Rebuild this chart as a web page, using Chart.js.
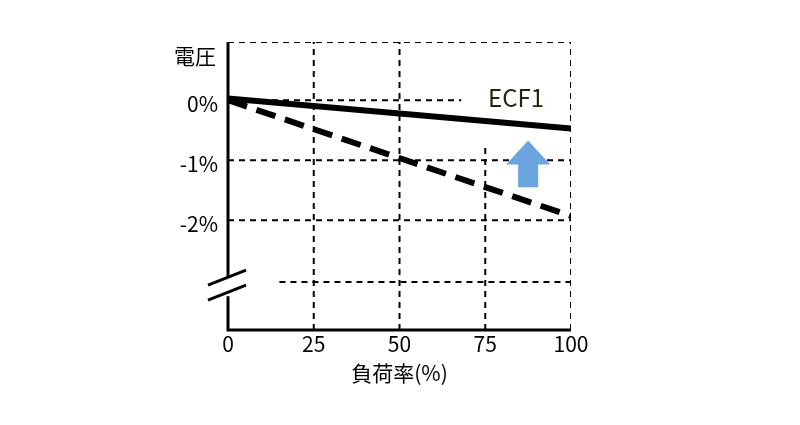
<!DOCTYPE html>
<html lang="ja">
<head>
<meta charset="UTF-8">
<title>ECF1</title>
<script src="https://cdn.jsdelivr.net/npm/chart.js"></script>
<style>
  body { margin: 0; background: #fff; }
  #wrap { width: 800px; height: 425px; }
</style>
</head>
<body>
<div id="wrap"><canvas id="c"></canvas></div>
<script>
// data
var xTicks = [0, 25, 50, 75, 100];
var yTicks = [0, -1, -2];
var yTickLabels = ['0%', '-1%', '-2%'];
var solidLine = [{x: 0, y: 0.03}, {x: 100, y: -0.47}];
var dashedLine = [{x: 0, y: 0}, {x: 100, y: -1.93}];
var yMin = -3.83, yMax = 0.97;
// dashed reference grid segments [x1, y1, x2, y2]
var gridSegs = [
  [25, yMin, 25, yMax], [50, yMin, 50, yMax], [75, yMin, 75, -0.75], [100, yMin, 100, yMax],
  [0, yMax, 100, yMax], [0, 0, 68, 0], [0, -1, 100, -1], [0, -2, 100, -2], [15, -3.03, 100, -3.03]
];
var arrow = {x: 87.5, yBase: -1.45, yTip: -0.67};

var datasets = gridSegs.map(function (s) {
  return { data: [{x: s[0], y: s[1]}, {x: s[2], y: s[3]}], borderColor: '#000', borderWidth: 2,
           borderDash: [6, 5], pointRadius: 0 };
});
datasets.push({ data: dashedLine, borderColor: '#000', borderWidth: 6, borderDash: [20, 10], pointRadius: 0 });
datasets.push({ data: solidLine, borderColor: '#000', borderWidth: 6, pointRadius: 0 });

var FONT = '"Noto Sans CJK JP", "Noto Sans", sans-serif';

var deco = {
  id: 'deco',
  afterDatasetsDraw: function (chart) {
    var c = chart.ctx, xs = chart.scales.x, ys = chart.scales.y, a = chart.chartArea;
    c.save();
    // axes
    c.strokeStyle = '#000'; c.lineWidth = 3; c.setLineDash([]);
    c.beginPath();
    c.moveTo(a.left, a.top); c.lineTo(a.left, a.bottom); c.lineTo(a.right, a.bottom);
    c.stroke();
    // axis break
    var by = ys.getPixelForValue(-3.1);
    c.fillStyle = '#fff'; c.fillRect(a.left - 4, by - 10, 8, 20);
    c.lineWidth = 3;
    c.beginPath();
    c.moveTo(a.left - 20, by - 1); c.lineTo(a.left + 18, by - 16);
    c.moveTo(a.left - 20, by + 14); c.lineTo(a.left + 18, by - 1);
    c.stroke();
    // arrow
    var ax = xs.getPixelForValue(arrow.x), y0 = ys.getPixelForValue(arrow.yBase), y1 = ys.getPixelForValue(arrow.yTip);
    c.fillStyle = '#6aa5e0';
    c.beginPath();
    c.moveTo(ax, y1); c.lineTo(ax + 22, y1 + 24); c.lineTo(ax + 10, y1 + 24); c.lineTo(ax + 10, y0);
    c.lineTo(ax - 10, y0); c.lineTo(ax - 10, y1 + 24); c.lineTo(ax - 22, y1 + 24); c.closePath();
    c.fill();
    // tick labels
    c.fillStyle = '#000'; c.font = '21px ' + FONT;
    c.textAlign = 'center'; c.textBaseline = 'top';
    xTicks.forEach(function (v) { c.fillText(String(v), xs.getPixelForValue(v), a.bottom + 4); });
    c.textAlign = 'right'; c.textBaseline = 'middle';
    yTicks.forEach(function (v, i) { c.fillText(yTickLabels[i], a.left - 10, ys.getPixelForValue(v) + 4); });
    c.fillText('電圧', a.left - 12, a.top + 14);
    c.textAlign = 'center'; c.textBaseline = 'top';
    c.fillText('負荷率(%)', (a.left + a.right) / 2, a.bottom + 33);
    c.font = '24px ' + FONT; c.fillStyle = '#2a2010';
    c.textAlign = 'left'; c.textBaseline = 'middle';
    c.fillText('ECF1', 488, 98);
    c.restore();
  }
};

new Chart(document.getElementById('c'), {
  type: 'line',
  data: { datasets: datasets },
  options: {
    responsive: true, maintainAspectRatio: false, animation: false,
    layout: { padding: { left: 228, right: 229, top: 42, bottom: 95 } },
    plugins: { legend: { display: false }, tooltip: { enabled: false } },
    scales: {
      x: { type: 'linear', min: 0, max: 100, display: false },
      y: { type: 'linear', min: yMin, max: yMax, display: false }
    }
  },
  plugins: [deco]
});
</script>
</body>
</html>
